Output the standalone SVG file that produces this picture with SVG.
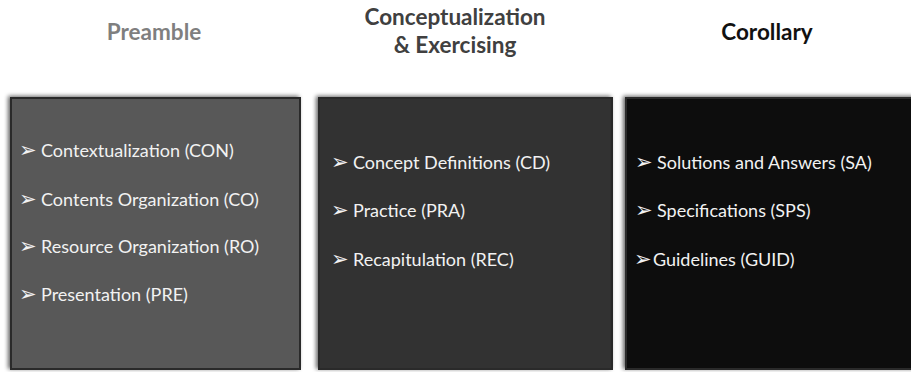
<svg xmlns="http://www.w3.org/2000/svg" width="911" height="372" viewBox="0 0 911 372">
<style>
.hdr{font-family:Lato,"Open Sans","Liberation Sans",sans-serif;font-size:22.5px;font-weight:bold;text-anchor:middle}
.item{font-family:Lato,"Open Sans","Liberation Sans",sans-serif;font-size:18px;fill:#f2f2f2}
.bul{font-family:"DejaVu Sans",sans-serif;font-size:21px;fill:#f2f2f2}
.box{stroke:#2a2a2a;stroke-width:2;filter:url(#sh)}
</style>
<defs>
<filter id="sh" x="-5%" y="-5%" width="110%" height="110%">
<feGaussianBlur in="SourceAlpha" stdDeviation="2"/>
<feOffset dx="-2" dy="-1"/>
<feComponentTransfer><feFuncA type="linear" slope="0.6"/></feComponentTransfer>
<feMerge><feMergeNode/><feMergeNode in="SourceGraphic"/></feMerge>
</filter>
</defs>
<g id="headers">
<text class="hdr" x="154" y="40" fill="#7f7f7f">Preamble</text>
<text class="hdr" x="455" y="25" fill="#404040">Conceptualization</text>
<text class="hdr" x="455" y="53" fill="#404040">&amp; Exercising</text>
<text class="hdr" x="767" y="40" fill="#111111">Corollary</text>
</g>
<g id="preamble">
<rect class="box" x="11" y="98" width="289" height="271" fill="#595959"/>
<text class="bul" x="19" y="157">➢</text><text class="item" x="41" y="157">Contextualization (CON)</text>
<text class="bul" x="19" y="206">➢</text><text class="item" x="41" y="206">Contents Organization (CO)</text>
<text class="bul" x="19" y="253">➢</text><text class="item" x="41" y="253">Resource Organization (RO)</text>
<text class="bul" x="19" y="301">➢</text><text class="item" x="41" y="301">Presentation (PRE)</text>
</g>
<g id="conceptualization">
<rect class="box" x="319" y="98" width="293" height="271" fill="#333333"/>
<text class="bul" x="331" y="169">➢</text><text class="item" x="353" y="169">Concept Definitions (CD)</text>
<text class="bul" x="331" y="217">➢</text><text class="item" x="353" y="217">Practice (PRA)</text>
<text class="bul" x="331" y="266">➢</text><text class="item" x="353" y="266">Recapitulation (REC)</text>
</g>
<g id="corollary">
<rect class="box" x="626" y="98" width="290" height="271" fill="#111111"/>
<text class="bul" x="635" y="169">➢</text><text class="item" x="657" y="169">Solutions and Answers (SA)</text>
<text class="bul" x="635" y="217">➢</text><text class="item" x="657" y="217">Specifications (SPS)</text>
<text class="bul" x="634" y="266">➢</text><text class="item" x="653" y="266">Guidelines (GUID)</text>
</g>
<g id="connectors"/>
</svg>
